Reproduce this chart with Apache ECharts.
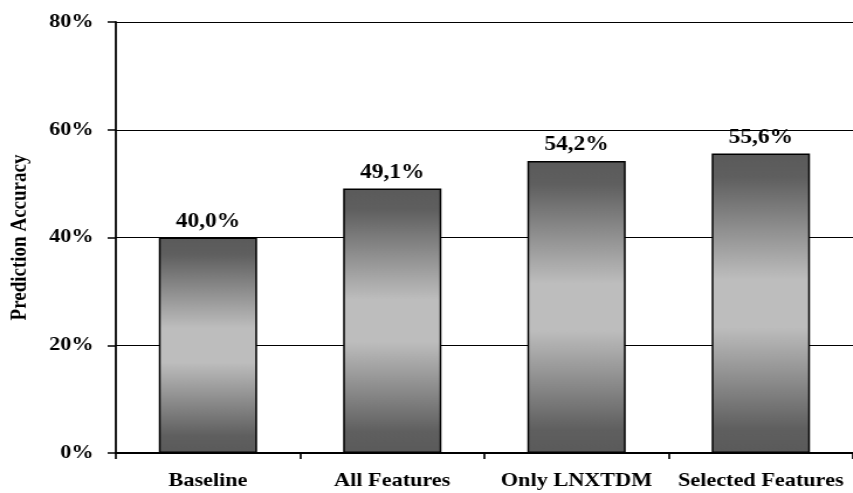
<!DOCTYPE html>
<html>
<head>
<meta charset="utf-8">
<script src="https://cdn.jsdelivr.net/npm/echarts@6/dist/echarts.min.js"></script>
<style>
  html, body { margin: 0; padding: 0; background: #fff; overflow: hidden; }
  /* the chart is drawn narrower and widened, giving the wide lettering of the figure */
  #chart { width: 729px; height: 493px; transform: scaleX(1.17); transform-origin: 0 0; }
</style>
</head>
<body>
<div id="chart"></div>
<script>
// Prediction accuracy per feature set (percent)
const categories = ['Baseline', 'All Features', 'Only LNXTDM', 'Selected Features'];
const accuracy = [40.0, 49.1, 54.2, 55.6];
const yTicks = [0, 20, 40, 60, 80];

const serif = '"Liberation Serif", "Times New Roman", serif';

const chart = echarts.init(document.getElementById('chart'));

// dark – light – dark vertical shading of each bar
const barFill = new echarts.graphic.LinearGradient(0, 0, 0, 1, [
  { offset: 0, color: '#5a5a5a' },
  { offset: 0.08, color: '#5f5f5f' },
  { offset: 0.42, color: '#bdbdbd' },
  { offset: 0.58, color: '#bdbdbd' },
  { offset: 0.92, color: '#5f5f5f' },
  { offset: 1, color: '#5a5a5a' }
]);

chart.setOption({
  animation: false,
  grid: { left: 98, top: 22, width: 636, bottom: 40, containLabel: false },
  xAxis: {
    type: 'category',
    data: categories,
    axisLine: { lineStyle: { color: '#000', width: 2 } },
    axisTick: { show: true, interval: 0, alignWithLabel: false, length: 6, lineStyle: { color: '#000', width: 1.7 } },
    axisLabel: {
      interval: 0,
      color: '#000', fontFamily: serif, fontWeight: 'bold', fontSize: 19, margin: 19
    }
  },
  yAxis: {
    type: 'value',
    min: 0,
    max: yTicks[yTicks.length - 1],
    interval: 20,
    name: 'Prediction Accuracy',
    nameLocation: 'middle',
    nameGap: 72,
    nameRotate: 90,
    nameTextStyle: { color: '#000', fontFamily: serif, fontWeight: 'bold', fontSize: 19 },
    axisLine: { show: true, lineStyle: { color: '#000', width: 1.8 } },
    axisTick: { show: true, inside: false, length: 7, lineStyle: { color: '#000', width: 1.5 } },
    axisLabel: {
      color: '#000', fontFamily: serif, fontWeight: 'bold', fontSize: 19, margin: 19,
      formatter: v => v + '%'
    },
    splitLine: { show: true, lineStyle: { color: '#000', width: 1 } }
  },
  series: [{
    type: 'bar',
    data: accuracy,
    barWidth: 84,
    itemStyle: { color: barFill, borderColor: '#000', borderWidth: 1.5 },
    label: {
      show: true,
      position: 'top',
      distance: 6,
      color: '#000',
      fontFamily: serif,
      fontWeight: 'bold',
      fontSize: 20,
      formatter: p => p.value.toFixed(1).replace('.', ',') + '%'
    }
  }]
});
</script>
</body>
</html>
